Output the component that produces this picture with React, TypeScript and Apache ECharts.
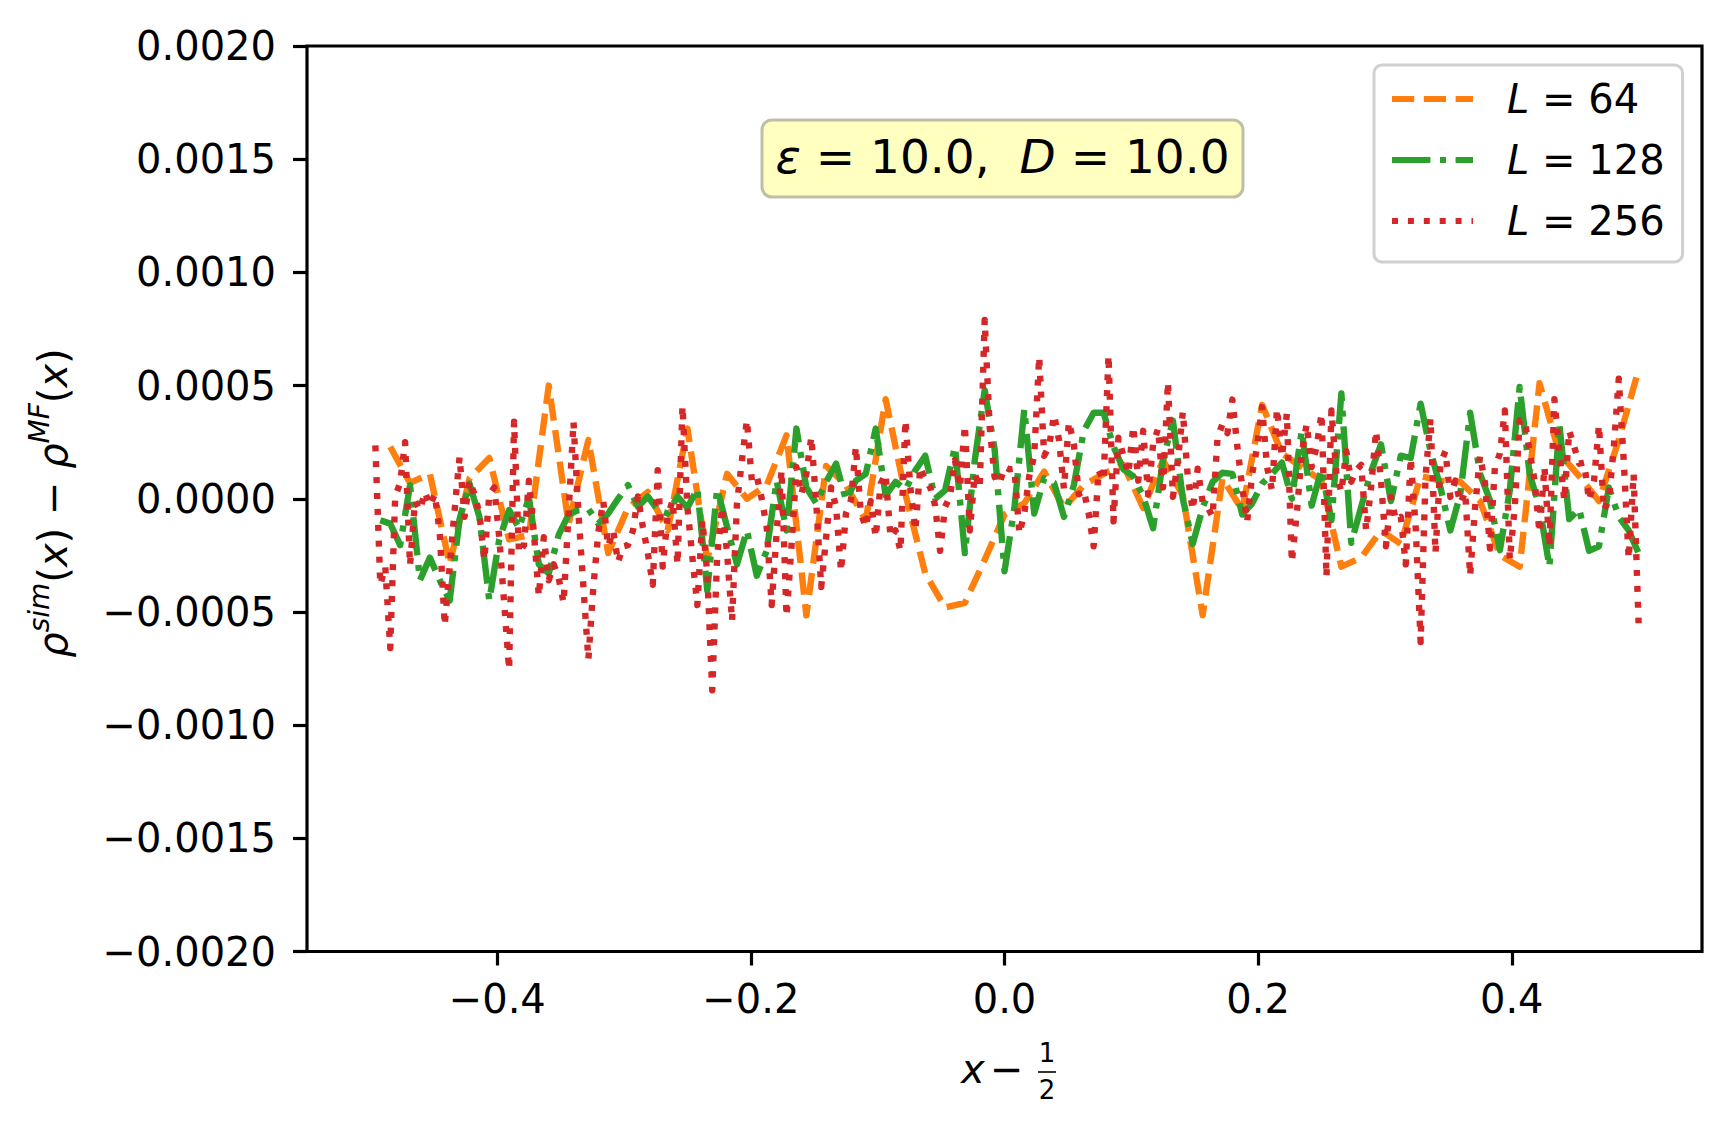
import React, { useEffect, useRef } from "react";
import * as echarts from "echarts";

// ---- data (values in units of 1e-4) ----
const SERIES_NAMES = ["L = 64", "L = 128", "L = 256"];
const SERIES_SIZES = [64, 128, 256];
const SERIES_COLORS = ["#ff7f0e", "#2ca02c", "#d62728"];
const X_TICKS = [-0.4, -0.2, 0, 0.2, 0.4];

const L64_E4 = [
  2.3, 0.7, 1.1, -2.9, 0.9, 1.8, -1.8, -1.6, 5.0, -1.1,
  2.6, -2.4, -0.4, 0.3, -1.4, 3.1, -2.7, 1.1, 0.0, 0.6,
  2.8, -5.15, 1.45, 0.6, -0.95, 4.4, 0.2, -3.3, -4.8, -4.6,
  -2.7, -0.7, -0.2, 1.2, -0.4, 0.6, 1.1, 1.5, -0.4, 1.7,
  0.15, -5.15, 0.9, -0.5, 4.15, 2.0, 1.4, 0.8, -3.0, -2.6,
  -1.4, -2.0, 1.0, 0.8, 0.75, -0.1, -2.5, -3.0, 5.1, 2.0,
  1.0, -0.1, 2.6, 5.7,
];

const L128_E4 = [
  -0.95, -1.1, -2.05, 0.6, -3.6, -2.6, -3.6, -4.5, -0.9, 0.67,
  -0.8, -4.5, -1.8, -0.5, -1.3, 0.05, -2.9, -3.3, -1.6, -0.7,
  -0.5, -0.45, -1.1, -0.65, 0.0, 0.6, -0.35, 0.1, -0.5, -0.65,
  0.1, -0.4, 0.45, -4.05, 0.45, -1.25, -2.9, -1.4, -3.4, -2.3,
  0.8, -1.4, 3.1, 0.5, -0.2, 0.75, 1.55, -0.07, 0.8, 1.1,
  3.1, 0.15, 0.75, 0.4, 1.26, 1.9, 0.0, 0.37, 2.3, -2.4,
  1.7, 4.8, 2.2, -3.2, -0.4, 3.95, -0.65, 0.9, 0.7, -0.8,
  0.6, 3.0, 3.8, 3.8, 2.3, 1.3, 1.0, 0.1, -1.3, 1.7,
  3.45, 0.0, -2.0, -0.4, 0.75, 1.15, 1.1, -0.7, -0.2, 0.67,
  1.1, 1.6, 0.0, 3.0, -0.3, 1.3, -0.95, 4.65, -1.95, -0.36,
  1.2, 2.4, -0.1, 1.9, 1.8, 4.2, 2.1, 0.5, -1.4, 0.2,
  3.8, 1.1, -0.07, -2.27, 0.37, 4.94, 1.1, -0.36, -3.0, 3.3,
  -0.9, -0.45, -2.3, -2.1, 0.5, -0.8, -1.4, -2.4,
];

const L256_E4 = [
  2.36, -3.8, -3.0, -6.6, 0.1, 0.7, 2.5, -2.95, -0.1, -0.5,
  0.3, -0.3, 0.2, -1.5, -5.6, -3.0, -0.5, 1.85, -0.8, 0.8,
  0.2, -0.65, -2.7, 0.2, 0.5, -1.7, -4.6, -7.55, 3.4, -2.4,
  -2.05, 0.8, -1.5, -4.3, -1.7, -3.6, -2.9, -3.5, -4.6, -0.65,
  3.4, -0.65, -3.9, -7.1, -3.9, -1.5, -0.1, -2.1, -1.4, -2.8,
  -2.1, -2.05, -1.4, 0.1, -1.25, -2.4, -3.8, 1.26, -3.0, -0.8,
  -0.07, -2.9, 4.1, -0.4, -2.6, -4.7, -0.95, -3.3, -8.46, -2.5,
  -0.36, -2.4, -5.4, -0.2, 1.7, 3.47, 0.8, 1.0, 0.0, -1.25,
  -4.7, -1.5, 1.26, -5.2, -2.1, 1.4, 0.2, 1.1, 2.73, -0.2,
  -3.9, -1.7, 0.5, -0.36, -3.2, -0.65, -0.07, 2.3, -0.65, -1.25,
  -0.1, -1.7, 0.67, 1.1, -1.7, -1.4, -2.3, 3.47, 0.5, -1.4,
  1.4, 0.8, 0.5, -0.3, -2.3, -0.36, 0.1, 1.7, 0.5, 3.25,
  -1.4, 1.1, 0.5, 7.9, 3.2, 0.96, 0.67, 1.4, 1.3, 1.33,
  -1.54, -0.65, 1.0, 1.9, 6.27, 1.9, 2.3, 3.7, 2.6, 0.45,
  3.4, 2.4, 0.2, 0.37, -0.65, -2.1, 1.26, 0.8, 6.34, -1.0,
  2.7, 1.9, 1.1, 3.2, 0.8, 3.0, 0.2, 2.4, 3.1, 0.5,
  5.16, 0.08, 1.7, 3.84, 0.96, -0.5, 1.33, -0.14, -0.36, -0.8,
  2.7, 3.3, 2.9, 4.38, 2.3, 0.5, -1.0, 1.1, 2.3, 4.05,
  1.4, 0.37, 3.98, 1.85, 3.76, -2.8, -0.65, 2.0, 3.3, 1.4,
  2.3, 3.76, -3.45, 3.9, 1.1, 0.3, 2.1, 0.75, 1.26, 1.5,
  -1.4, 0.5, 3.0, 0.8, -2.1, 0.08, -0.95, -0.8, -2.9, 1.8,
  -1.25, -6.33, 1.0, 3.55, -2.4, 1.55, 2.1, 0.08, 0.8, -0.2,
  0.3, -3.4, -0.36, 1.9, 0.67, -2.2, 1.4, 2.0, 3.9, -2.7,
  -0.36, 3.47, 3.47, 2.1, 0.8, -1.5, 1.4, -2.1, 4.4, 2.1,
  -0.07, 3.0, 2.3, 1.55, 1.6, -0.07, 0.8, 3.25, -0.5, -0.07,
  2.3, 5.3, 1.7, -2.65, 1.1, -5.5,
];

const SERIES_VALUES = [L64_E4, L128_E4, L256_E4];

// ---- styles ----
const FONT = "DejaVu Sans";
const LINE_W = 6.4;
const DASHES: number[][] = [
  [22.2, 9.6],
  [38.4, 9.6, 6, 9.6],
  [6, 9.9],
];
const LEGEND_ICONS = [
  "path://M0,0H22.2V6H0Z M31.8,0H54V6H31.8Z M63.6,0H81V6H63.6Z",
  "path://M0,0H38.4V6H0Z M48,0H54V6H48Z M63.6,0H81V6H63.6Z",
  "path://M0,0H6V6H0Z M15.9,0H21.9V6H15.9Z M31.8,0H37.8V6H31.8Z M47.7,0H53.7V6H47.7Z M63.6,0H69.6V6H63.6Z M79.5,0H81V6H79.5Z",
];

function fmt(v: number, d: number): string {
  const s = Math.abs(v) < 1e-12 ? (0).toFixed(d) : v.toFixed(d);
  return s.replace("-", "\u2212");
}

function toPairs(vals: number[], L: number): number[][] {
  return vals.map((v, i) => [(i + 1) / L - 0.5, v * 1e-4]);
}

export default function App() {
  const ref = useRef<HTMLDivElement | null>(null);

  useEffect(() => {
    if (!ref.current) return;
    const chart = echarts.init(ref.current, null, { renderer: "svg" });

    const series = SERIES_NAMES.map((name, k) => ({
      type: "line",
      name,
      data: toPairs(SERIES_VALUES[k], SERIES_SIZES[k]),
      symbol: "none",
      showSymbol: false,
      clip: true,
      z: 2 + k,
      itemStyle: { color: SERIES_COLORS[k] },
      lineStyle: {
        color: SERIES_COLORS[k],
        width: LINE_W,
        type: DASHES[k],
        cap: "butt",
        join: "round",
      },
    }));

    const option: any = {
      animation: false,
      backgroundColor: "#ffffff",
      grid: {
        left: 307,
        right: 30,
        top: 46,
        bottom: 175.5,
        show: true,
        borderColor: "#000000",
        borderWidth: 3.2,
        backgroundColor: "transparent",
      },
      xAxis: {
        type: "value",
        min: -0.55,
        max: 0.55,
        axisLine: { show: false, onZero: false },
        splitLine: { show: false },
        axisTick: {
          show: true,
          length: 14,
          customValues: X_TICKS,
          lineStyle: { color: "#000", width: 3.2 },
        },
        axisLabel: {
          customValues: X_TICKS,
          formatter: (v: number) => fmt(v, 1),
          fontSize: 40,
          fontFamily: FONT,
          color: "#000",
          margin: 27,
        },
      },
      yAxis: {
        type: "value",
        min: -0.002,
        max: 0.002,
        interval: 0.0005,
        axisLine: { show: false, onZero: false },
        splitLine: { show: false },
        axisTick: {
          show: true,
          length: 14,
          lineStyle: { color: "#000", width: 3.2 },
        },
        axisLabel: {
          formatter: (v: number) => fmt(v, 4),
          fontSize: 40,
          fontFamily: FONT,
          color: "#000",
          margin: 31,
        },
      },
      legend: {
        data: SERIES_NAMES.map((n, k) => ({ name: n, icon: LEGEND_ICONS[k] })),
        orient: "vertical",
        left: 1374,
        top: 65,
        itemWidth: 81,
        itemHeight: 6,
        itemGap: 17,
        padding: [12, 18, 19, 18],
        backgroundColor: "rgba(255,255,255,0.8)",
        borderColor: "#d0d0d0",
        borderWidth: 3,
        borderRadius: 8,
        selectedMode: false,
        itemStyle: { borderWidth: 0 },
        formatter: (name: string) => "{i|L}" + name.slice(1),
        textStyle: {
          fontSize: 40,
          fontFamily: FONT,
          color: "#000",
          lineHeight: 44,
          padding: [0, 0, 0, 29],
          rich: {
            i: { fontStyle: "italic", fontSize: 40, fontFamily: FONT, lineHeight: 44, color: "#000" },
          },
        },
      },
      graphic: [
        {
          type: "rect",
          z: 20,
          shape: { x: 762, y: 120, width: 481, height: 77, r: 10 },
          style: { fill: "#ffffc0", stroke: "#bfbfa8", lineWidth: 3 },
        },
        {
          type: "text",
          z: 21,
          x: 1002.5,
          y: 156.5,
          style: {
            text: "{i|\u03b5} = 10.0,  {i|D} = 10.0",
            fontSize: 47,
            fontFamily: FONT,
            fill: "#000",
            align: "center",
            verticalAlign: "middle",
            rich: {
              i: { fontStyle: "italic", fontSize: 47, fontFamily: FONT, fill: "#000" },
            },
          },
        },
        // x axis label:  x − 1/2
        {
          type: "text",
          z: 21,
          x: 961,
          y: 1069,
          style: { text: "x", fontStyle: "italic", fontSize: 40, fontFamily: FONT, fill: "#000", align: "left", verticalAlign: "middle" },
        },
        {
          type: "text",
          z: 21,
          x: 990,
          y: 1069,
          style: { text: "\u2212", fontSize: 40, fontFamily: FONT, fill: "#000", align: "left", verticalAlign: "middle" },
        },
        {
          type: "text",
          z: 21,
          x: 1047,
          y: 1053,
          style: { text: "1", fontSize: 26, fontFamily: FONT, fill: "#000", align: "center", verticalAlign: "middle" },
        },
        {
          type: "line",
          z: 21,
          shape: { x1: 1038, y1: 1072, x2: 1056, y2: 1072 },
          style: { stroke: "#000", lineWidth: 1.6 },
        },
        {
          type: "text",
          z: 21,
          x: 1047,
          y: 1090,
          style: { text: "2", fontSize: 26, fontFamily: FONT, fill: "#000", align: "center", verticalAlign: "middle" },
        },
        // y axis label
        {
          type: "text",
          z: 21,
          x: 53,
          y: 503,
          rotation: Math.PI / 2,
          style: {
            text: "{i|\u03c1}{s|sim}{n|(}{i|x}{n|) \u2212 }{i|\u03c1}{s|MF}{n|(}{i|x}{n|)}",
            fontSize: 40,
            fontFamily: FONT,
            fill: "#000",
            align: "center",
            verticalAlign: "middle",
            rich: {
              n: { fontSize: 40, fontFamily: FONT, lineHeight: 56, fill: "#000" },
              i: { fontSize: 40, fontFamily: FONT, fontStyle: "italic", lineHeight: 56, fill: "#000" },
              s: { fontSize: 28, fontFamily: FONT, fontStyle: "italic", lineHeight: 28, verticalAlign: "top", fill: "#000" },
            },
          },
        },
      ],
      series,
    };

    chart.setOption(option);
    return () => {
      chart.dispose();
    };
  }, []);

  return (
    <div
      ref={ref}
      style={{ position: "absolute", left: 0, top: 0, width: 1732, height: 1127 }}
    />
  );
}
